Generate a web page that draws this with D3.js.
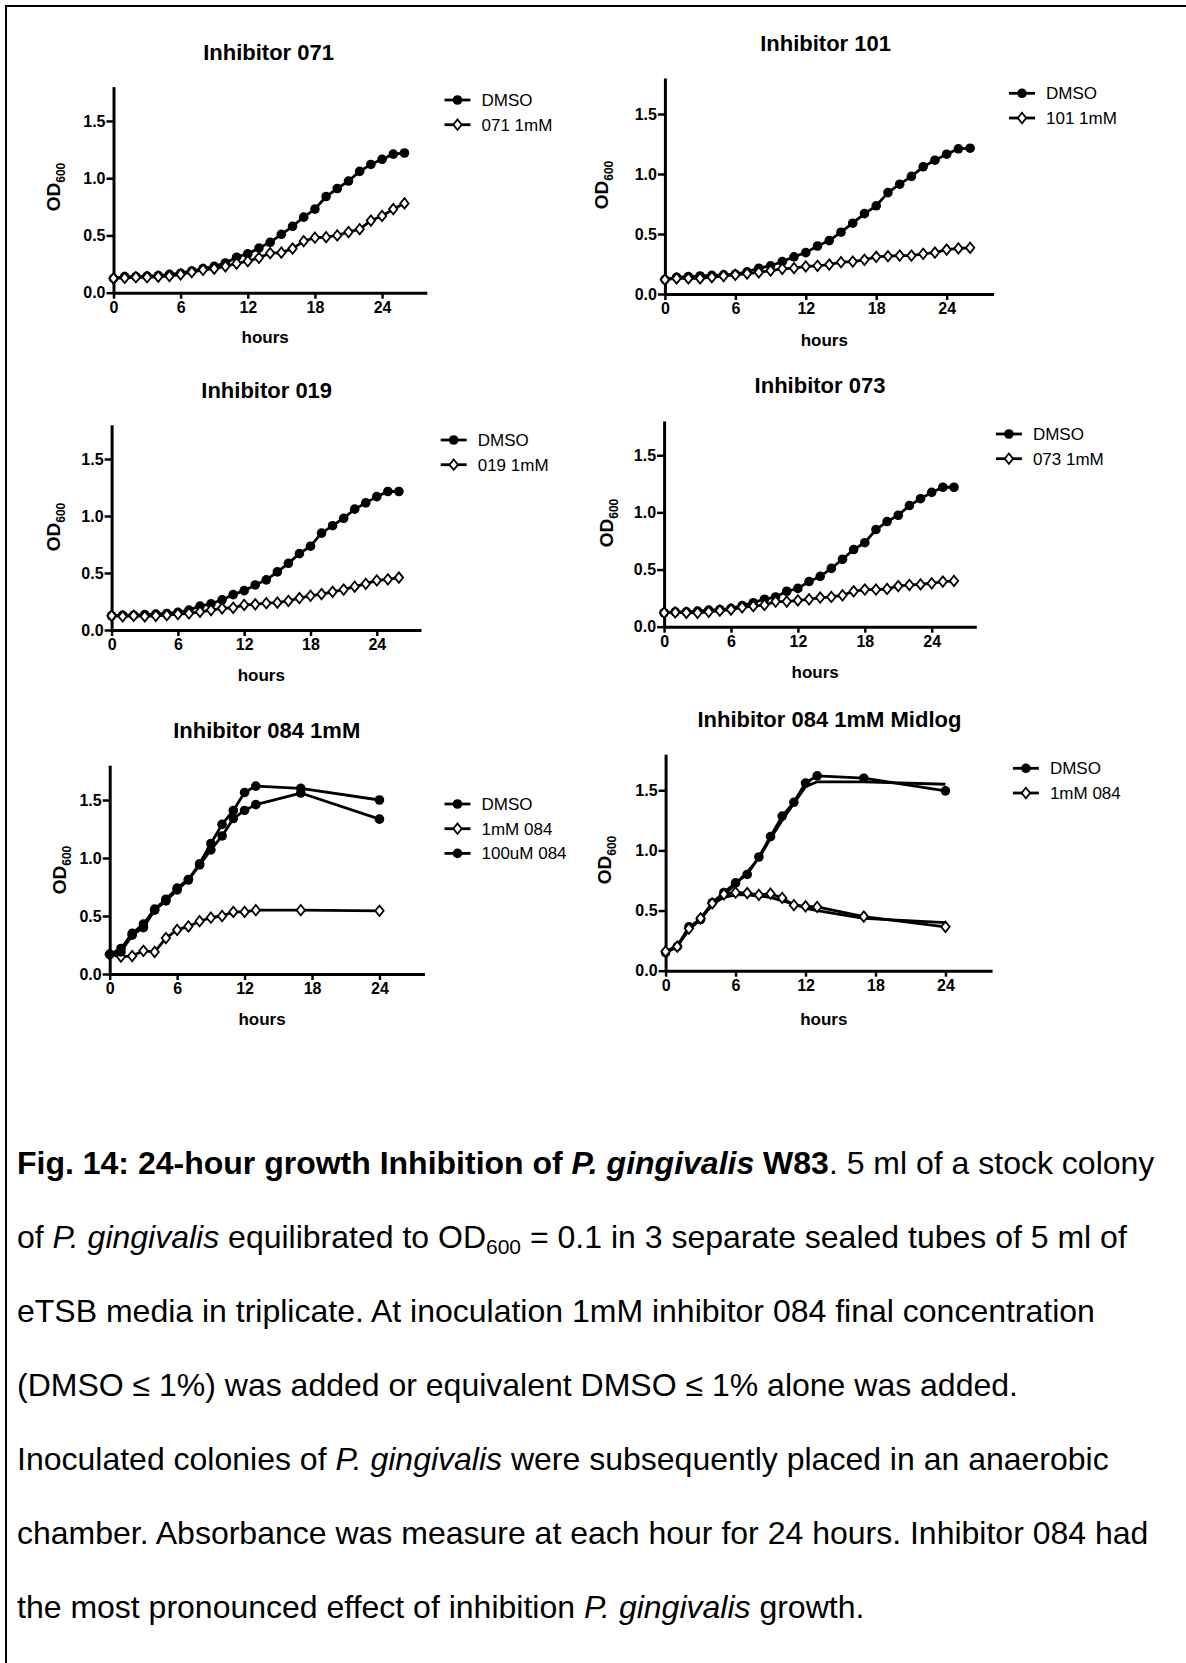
<!DOCTYPE html>
<html>
<head>
<meta charset="UTF-8">
<style>
body { margin: 0; background: #fff; }
svg text { font-family: "Liberation Sans", Arial, Helvetica, sans-serif; fill: #000; }
.title { font-size: 22px; font-weight: bold; }
.tick text { font-size: 16px; font-weight: bold; }
.axlabel { font-size: 17px; font-weight: bold; }
.legend text { font-size: 17px; }
.caption { font-size: 32px; }
</style>
<title>Fig. 14</title>
<script src="https://cdn.jsdelivr.net/npm/d3@7/dist/d3.min.js"></script>
</head>
<body>
<svg id="fig" width="1186" height="1663"></svg>
<script>
// time points (hours)
const hoursLong  = [0,1,2,3,4,5,6,7,8,9,10,11,12,13,14,15,16,17,18,19,20,21,22,23,24,25,26];
const hoursShort = [0,1,2,3,4,5,6,7,8,9,10,11,12,13,17,24];
const xTicks = [0, 6, 12, 18, 24];
const yTicks = [0, 0.5, 1.0, 1.5];

// OD600 readings
const dmso071 = [0.125,0.14,0.14,0.145,0.15,0.16,0.17,0.19,0.21,0.23,0.26,0.31,0.34,0.39,0.44,0.51,0.58,0.66,0.73,0.84,0.91,0.975,1.06,1.12,1.165,1.21,1.22];
const inh071  = [0.125,0.13,0.135,0.135,0.14,0.145,0.16,0.18,0.2,0.21,0.23,0.255,0.275,0.305,0.345,0.35,0.385,0.45,0.48,0.485,0.5,0.53,0.555,0.63,0.67,0.73,0.78];

const dmso101 = [0.12,0.14,0.145,0.15,0.155,0.16,0.165,0.185,0.215,0.235,0.27,0.31,0.345,0.4,0.445,0.515,0.59,0.67,0.735,0.845,0.915,0.98,1.06,1.115,1.165,1.21,1.215];
const inh101  = [0.12,0.13,0.13,0.13,0.14,0.15,0.16,0.17,0.18,0.195,0.21,0.215,0.23,0.235,0.245,0.265,0.27,0.285,0.31,0.315,0.32,0.32,0.335,0.345,0.37,0.38,0.385];

const dmso019 = [0.125,0.13,0.13,0.135,0.14,0.145,0.155,0.175,0.21,0.23,0.265,0.31,0.345,0.395,0.44,0.51,0.585,0.67,0.735,0.85,0.915,0.98,1.06,1.115,1.17,1.215,1.215];
const inh019  = [0.125,0.12,0.125,0.12,0.125,0.13,0.14,0.145,0.16,0.175,0.19,0.195,0.22,0.225,0.235,0.24,0.255,0.28,0.3,0.315,0.335,0.355,0.38,0.405,0.435,0.445,0.46];

const dmso073 = [0.122,0.13,0.13,0.137,0.145,0.15,0.16,0.185,0.21,0.24,0.26,0.31,0.335,0.395,0.44,0.51,0.59,0.675,0.735,0.85,0.92,0.975,1.06,1.12,1.175,1.22,1.22];
const inh073  = [0.122,0.125,0.122,0.122,0.13,0.14,0.15,0.17,0.18,0.19,0.22,0.22,0.23,0.24,0.255,0.26,0.275,0.31,0.325,0.325,0.33,0.355,0.365,0.37,0.38,0.395,0.4];

const dmso084      = [0.17,0.22,0.35,0.43,0.56,0.645,0.74,0.815,0.95,1.125,1.29,1.41,1.565,1.62,1.6,1.5];
const inh084_1mM   = [0.17,0.15,0.155,0.2,0.19,0.31,0.38,0.41,0.455,0.485,0.5,0.535,0.535,0.55,0.55,0.545];
const inh084_100uM = [0.17,0.19,0.335,0.4,0.55,0.63,0.725,0.81,0.94,1.07,1.19,1.34,1.41,1.46,1.56,1.335];

const dmsoMid     = [0.15,0.2,0.365,0.425,0.565,0.65,0.73,0.8,0.945,1.115,1.285,1.4,1.56,1.62,1.6,1.495];
const dmsoMidLine = [0.15,0.215,0.34,0.435,0.545,0.63,0.72,0.82,0.935,1.1,1.25,1.39,1.53,1.57,1.57,1.55];
const inhMid      = [0.16,0.2,0.35,0.435,0.56,0.635,0.65,0.645,0.63,0.64,0.605,0.545,0.535,0.53,0.45,0.365];
const inhMidLine  = [0.15,0.21,0.34,0.43,0.555,0.61,0.63,0.63,0.62,0.61,0.58,0.555,0.52,0.5,0.435,0.4];

// panel layout (pixel positions of each small chart)
const panels = [
  { title: "Inhibitor 071", left: 113.5, bottom: 292.7, pxH: 11.19, pxU: 114.5, tx: 268.6, ty: 60, hy: 343, ox: 53, oy: 187, lx: 444.5, ly: 100,
    series: [ { name: "DMSO", x: hoursLong, y: dmso071, mark: "circle" }, { name: "071 1mM", x: hoursLong, y: inh071, mark: "diamond" } ] },
  { title: "Inhibitor 101", left: 664.9, bottom: 294, pxH: 11.74, pxU: 120, tx: 825.6, ty: 51, hy: 346, ox: 601, oy: 185, lx: 1009, ly: 93.3,
    series: [ { name: "DMSO", x: hoursLong, y: dmso101, mark: "circle" }, { name: "101 1mM", x: hoursLong, y: inh101, mark: "diamond" } ] },
  { title: "Inhibitor 019", left: 111.6, bottom: 630, pxH: 11.05, pxU: 114, tx: 266.7, ty: 398, hy: 681, ox: 53, oy: 527, lx: 440.7, ly: 440,
    series: [ { name: "DMSO", x: hoursLong, y: dmso019, mark: "circle" }, { name: "019 1mM", x: hoursLong, y: inh019, mark: "diamond" } ] },
  { title: "Inhibitor 073", left: 664.1, bottom: 626.7, pxH: 11.15, pxU: 114.3, tx: 820, ty: 393, hy: 678, ox: 606, oy: 523, lx: 995.9, ly: 434,
    series: [ { name: "DMSO", x: hoursLong, y: dmso073, mark: "circle" }, { name: "073 1mM", x: hoursLong, y: inh073, mark: "diamond" } ] },
  { title: "Inhibitor 084 1mM", left: 109.7, bottom: 974, pxH: 11.24, pxU: 116, tx: 266.7, ty: 738, hy: 1025, ox: 58.6, oy: 870, lx: 444.5, ly: 804,
    series: [ { name: "DMSO", x: hoursShort, y: dmso084, mark: "circle" }, { name: "1mM 084", x: hoursShort, y: inh084_1mM, mark: "diamond" },
              { name: "100uM 084", x: hoursShort, y: inh084_100uM, mark: "circle" } ] },
  { title: "Inhibitor 084 1mM Midlog", left: 665.6, bottom: 970.7, pxH: 11.66, pxU: 120.3, tx: 829.4, ty: 726.7, hy: 1025, ox: 604, oy: 860, lx: 1012.9, ly: 768.3,
    series: [ { name: null, x: hoursShort, y: dmsoMidLine, mark: null }, { name: null, x: hoursShort, y: inhMidLine, mark: null },
              { name: "DMSO", x: hoursShort, y: dmsoMid, mark: "circle" }, { name: "1mM 084", x: hoursShort, y: inhMid, mark: "diamond" } ] }
];

const svg = d3.select("#fig");
svg.append("rect").attr("width", 1186).attr("height", 1663).attr("fill", "#fff");

// page frame: top and left edges only
svg.append("line").attr("x1", 5).attr("x2", 1186).attr("y1", 6).attr("y2", 6).attr("stroke", "#000").attr("stroke-width", 2);
svg.append("line").attr("x1", 6).attr("x2", 6).attr("y1", 5).attr("y2", 1663).attr("stroke", "#000").attr("stroke-width", 2);

const diamond = "M0,-5.2L4.2,0L0,5.2L-4.2,0Z";

function drawMark(g, kind, cx, cy) {
  if (kind === "circle") {
    g.append("circle").attr("cx", cx).attr("cy", cy).attr("r", 4.8).attr("fill", "#000");
  } else if (kind === "diamond") {
    g.append("path").attr("d", diamond).attr("transform", "translate(" + cx + "," + cy + ")")
      .attr("fill", "#fff").attr("stroke", "#000").attr("stroke-width", 1.8);
  }
}

panels.forEach(function(p) {
  const x = d3.scaleLinear().domain([0, 28]).range([p.left, p.left + 28 * p.pxH]);
  const y = d3.scaleLinear().domain([0, 1.8]).range([p.bottom, p.bottom - 1.8 * p.pxU]);
  const g = svg.append("g");

  g.append("text").attr("class", "title").attr("x", p.tx).attr("y", p.ty).attr("text-anchor", "middle").text(p.title);

  const xa = g.append("g").attr("transform", "translate(0," + p.bottom + ")")
    .call(d3.axisBottom(x).tickValues(xTicks).tickSize(6).tickSizeOuter(0).tickPadding(3));
  const ya = g.append("g").attr("transform", "translate(" + p.left + ",0)")
    .call(d3.axisLeft(y).tickValues(yTicks).tickFormat(d3.format(".1f")).tickSize(7).tickSizeOuter(0).tickPadding(1));
  [xa, ya].forEach(function(a) {
    a.select(".domain").attr("stroke", "#000").attr("stroke-width", 3);
    a.selectAll(".tick line").attr("stroke", "#000").attr("stroke-width", 2.5);
    a.selectAll(".tick text").attr("fill", "#000");
  });

  g.append("text").attr("class", "axlabel").attr("x", x(14) - 5).attr("y", p.hy).attr("text-anchor", "middle").text("hours");

  const od = g.append("text").attr("class", "axlabel").attr("text-anchor", "middle")
    .attr("transform", "translate(" + (p.ox + 7) + "," + p.oy + ") rotate(-90)");
  od.append("tspan").attr("font-size", "19px").text("OD");
  od.append("tspan").attr("font-size", "12px").attr("dy", 5).text("600");

  const line = d3.line().x(function(d) { return x(d[0]); }).y(function(d) { return y(d[1]); });
  p.series.forEach(function(s) {
    const pts = s.x.map(function(h, i) { return [h, s.y[i]]; });
    g.append("path").datum(pts).attr("d", line).attr("fill", "none").attr("stroke", "#000")
      .attr("stroke-width", 2.8).attr("stroke-linejoin", "round");
    pts.forEach(function(d) { drawMark(g, s.mark, x(d[0]), y(d[1])); });
  });

  // legend
  const lg = g.append("g").attr("class", "legend");
  p.series.filter(function(s) { return s.name; }).forEach(function(s, i) {
    const yy = p.ly + i * 24.7;
    lg.append("line").attr("x1", p.lx).attr("x2", p.lx + 26).attr("y1", yy).attr("y2", yy)
      .attr("stroke", "#000").attr("stroke-width", 2.8);
    drawMark(lg, s.mark, p.lx + 13, yy);
    lg.append("text").attr("x", p.lx + 37).attr("y", yy + 6).text(s.name);
  });
});

// caption: each line is a list of [text, style] pieces
const capLines = [
  [["Fig. 14: 24-hour growth Inhibition of ", "bold"], ["P. gingivalis", "bolditalic"], [" W83", "bold"], [". 5 ml of a stock colony", ""]],
  [["of ", ""], ["P. gingivalis", "italic"], [" equilibrated to OD", ""], ["600", "sub"], [" = 0.1 in 3 separate sealed tubes of 5 ml of", "after-sub"]],
  [["eTSB media in triplicate. At inoculation 1mM inhibitor 084 final concentration", ""]],
  [["(DMSO \u2264 1%) was added or equivalent DMSO \u2264 1% alone was added.", ""]],
  [["Inoculated colonies of ", ""], ["P. gingivalis", "italic"], [" were subsequently placed in an anaerobic", ""]],
  [["chamber. Absorbance was measure at each hour for 24 hours. Inhibitor 084 had", ""]],
  [["the most pronounced effect of inhibition ", ""], ["P. gingivalis", "italic"], [" growth.", ""]]
];
capLines.forEach(function(segs, i) {
  const t = svg.append("text").attr("class", "caption").attr("x", 17).attr("y", 1174 + i * 74);
  segs.forEach(function(s) {
    const ts = t.append("tspan").text(s[0]);
    if (s[1] === "bold" || s[1] === "bolditalic") ts.attr("font-weight", "bold");
    if (s[1] === "italic" || s[1] === "bolditalic") ts.attr("font-style", "italic");
    if (s[1] === "sub") ts.attr("font-size", "21px").attr("dy", 6);
    if (s[1] === "after-sub") ts.attr("dy", -6);
  });
});
</script>
</body>
</html>
